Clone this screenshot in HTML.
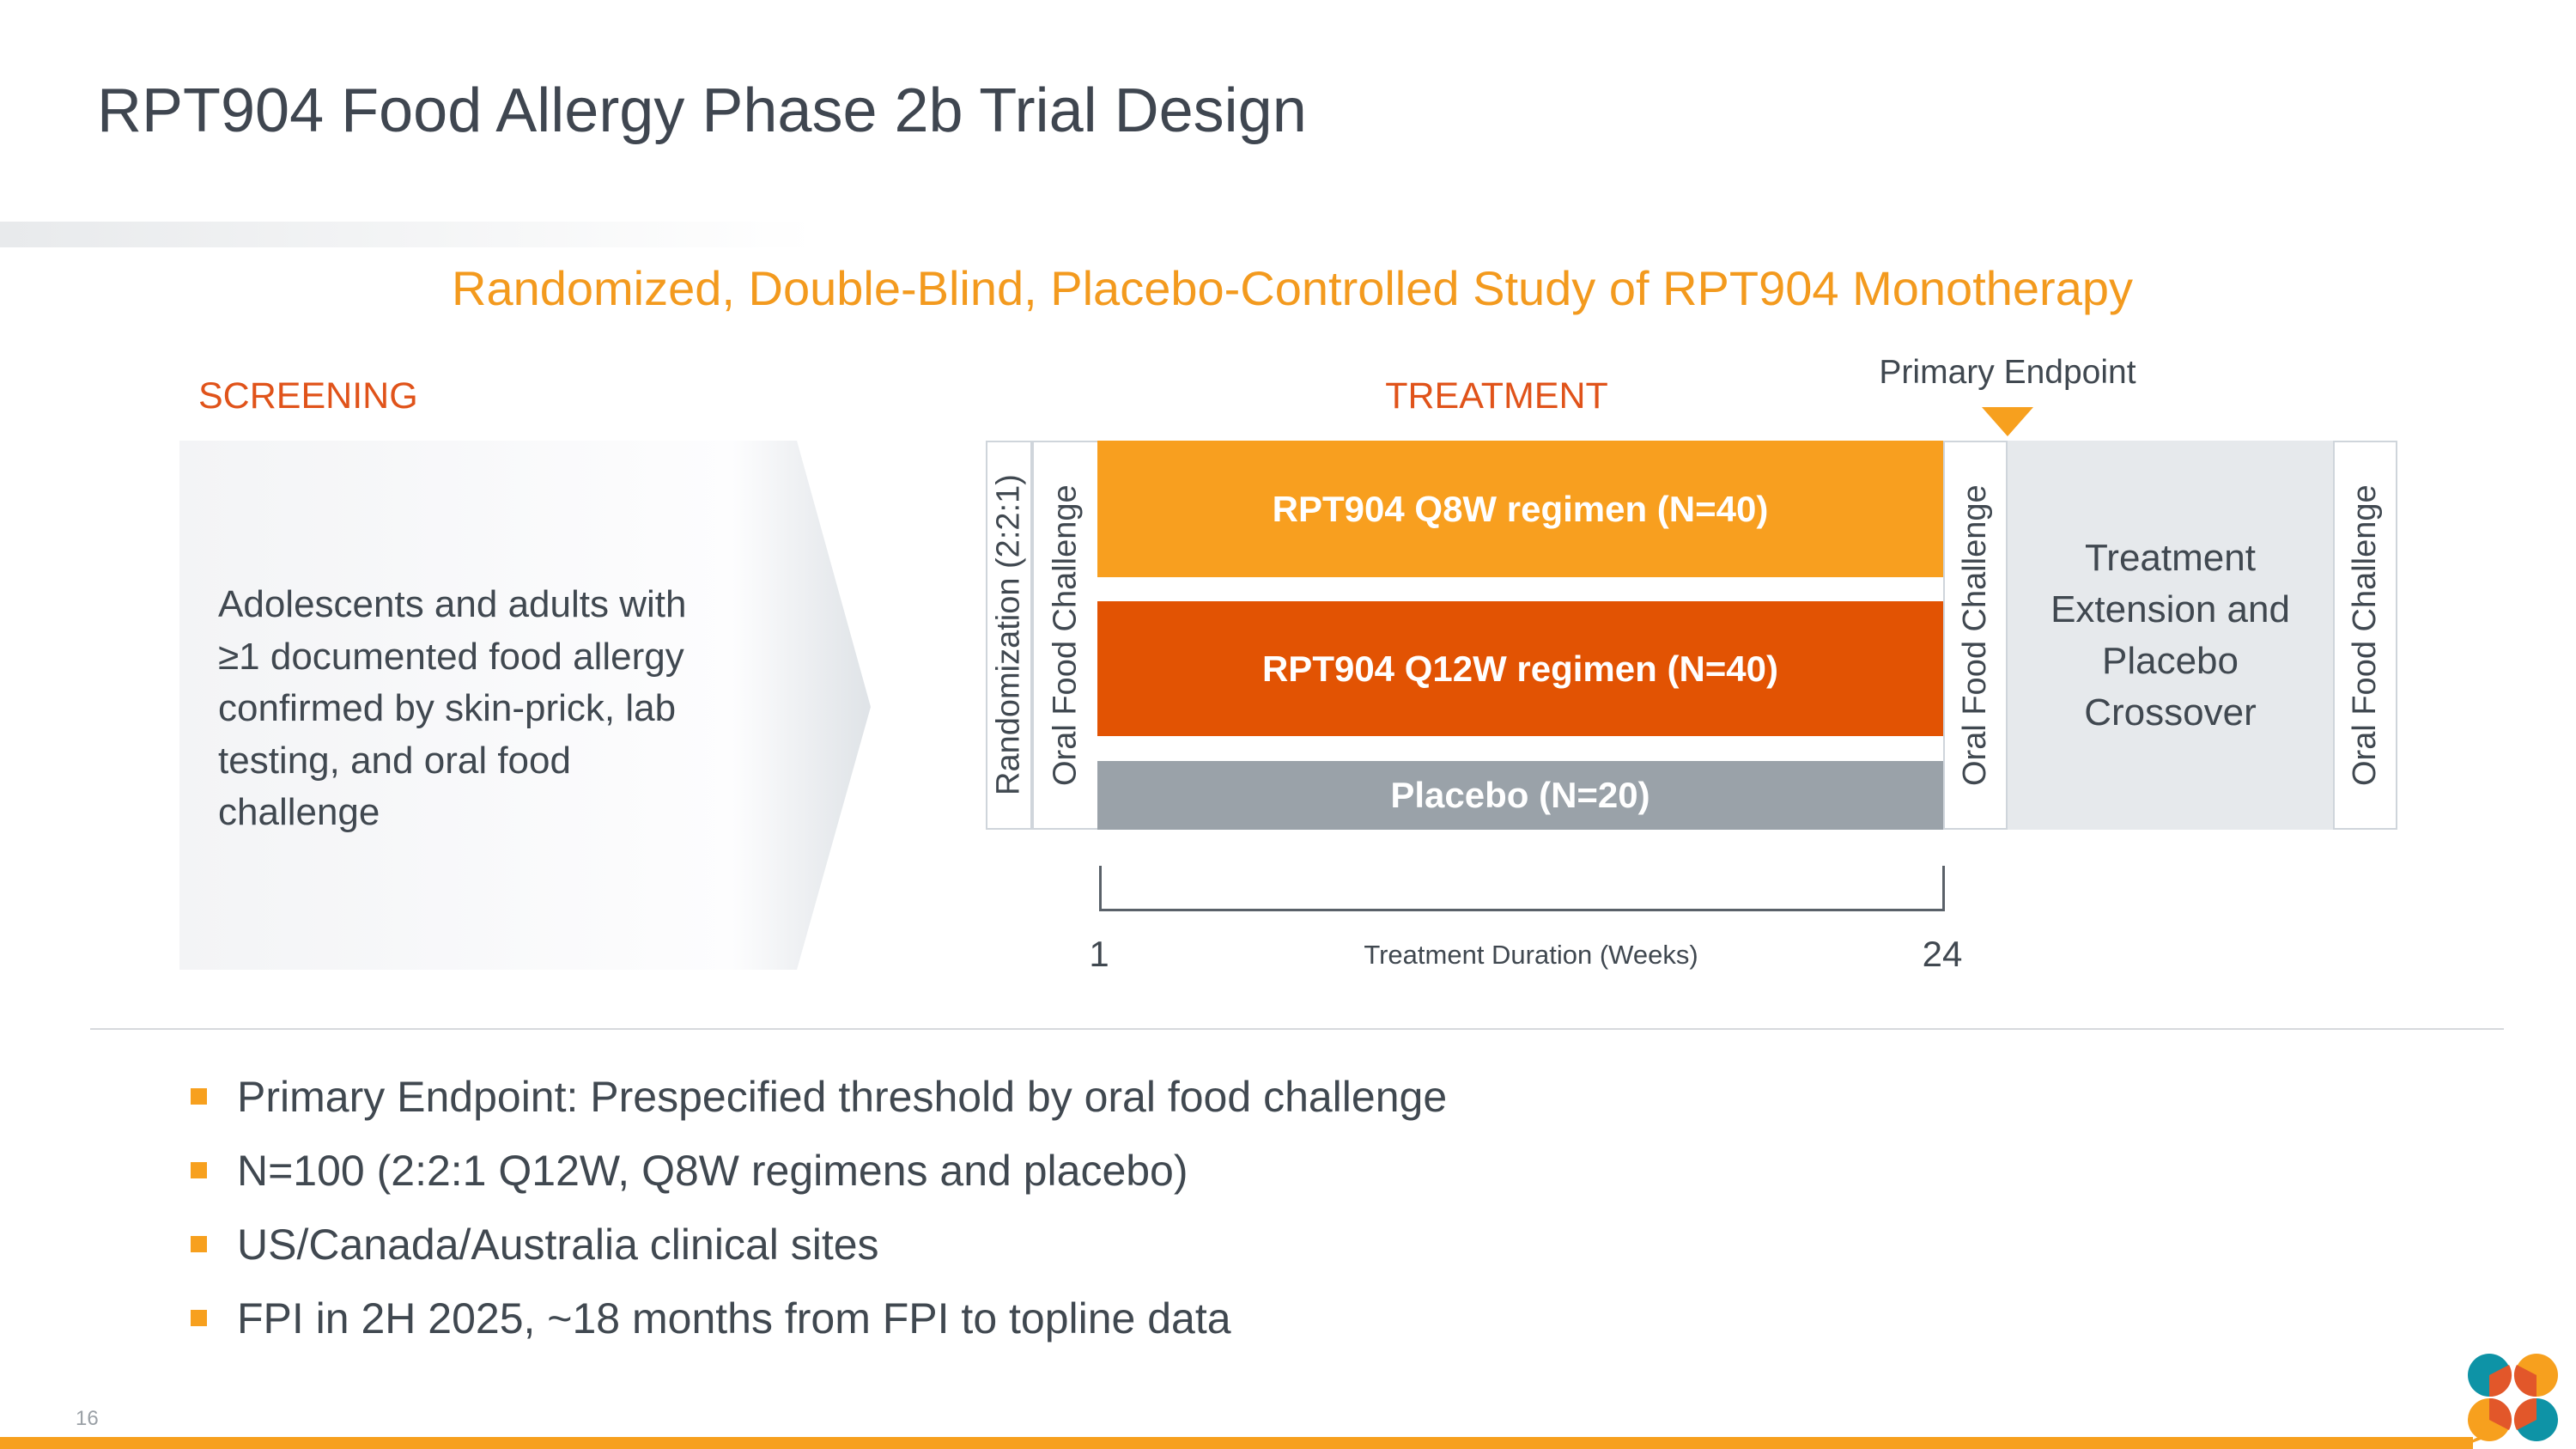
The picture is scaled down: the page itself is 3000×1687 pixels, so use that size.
<!DOCTYPE html>
<html><head><meta charset="utf-8"><style>
body{margin:0;width:3000px;height:1687px;position:relative;overflow:hidden;background:#fff;font-family:"Liberation Sans",sans-serif;color:#404850}
div{position:absolute;box-sizing:border-box}
.vt{writing-mode:vertical-rl;transform:rotate(180deg);display:flex;align-items:center;justify-content:center;font-size:38px;color:#404850;white-space:nowrap}
.bar{color:#fff;font-weight:bold;font-size:42px;display:flex;align-items:center;justify-content:center}
.bl{left:222px;width:19px;height:19px;background:#F7A01E}
.bt{left:276px;font-size:50px;color:#404850;white-space:nowrap}
</style></head><body>
<div style="left:113px;top:88px;font-size:72px;color:#3f4650">RPT904 Food Allergy Phase 2b Trial Design</div>
<div style="left:0;top:258px;width:950px;height:30px;background:linear-gradient(to right,#e8eaec,rgba(255,255,255,0))"></div>
<div style="left:0;width:3000px;top:303px;text-align:center;font-size:56px;color:#F39A1E;padding-left:10px">Randomized, Double-Blind, Placebo-Controlled Study of RPT904 Monotherapy</div>
<div style="left:231px;top:437px;font-size:43px;color:#E0531A">SCREENING</div>
<div style="left:1543px;width:400px;text-align:center;top:437px;font-size:43px;color:#E0531A">TREATMENT</div>
<div style="left:2138px;width:400px;text-align:center;top:412px;font-size:39px;color:#404850">Primary Endpoint</div>
<svg style="position:absolute;left:2308px;top:474px" width="60" height="34"><polygon points="0,0 60,0 30,34" fill="#F7A01E"/></svg>
<svg style="position:absolute;left:209px;top:513px" width="810" height="616"><defs><linearGradient id="g" x1="0" x2="1"><stop offset="0" stop-color="#f3f4f6"/><stop offset="0.8" stop-color="#fdfdfe"/><stop offset="1" stop-color="#dfe3e7"/></linearGradient></defs><polygon points="0,0 719,0 805,310 719,616 0,616" fill="url(#g)"/></svg>
<div style="left:254px;top:674px;font-size:44px;line-height:60.5px;color:#404850">Adolescents and adults with<br>≥1 documented food allergy<br>confirmed by skin-prick, lab<br>testing, and oral food<br>challenge</div>
<div class="vt" style="left:1148px;top:513px;width:54px;height:453px;border:2px solid #cfd5db">Randomization (2:2:1)</div>
<div class="vt" style="left:1202px;top:513px;width:76px;height:453px;border:2px solid #cfd5db;border-left:none">Oral Food Challenge</div>
<div class="bar" style="left:1278px;top:513px;width:985px;height:159px;background:#F89F1F">RPT904 Q8W regimen (N=40)</div>
<div class="bar" style="left:1278px;top:700px;width:985px;height:157px;background:#E25303">RPT904 Q12W regimen (N=40)</div>
<div class="bar" style="left:1278px;top:886px;width:985px;height:80px;background:#9AA2A9">Placebo (N=20)</div>
<div class="vt" style="left:2263px;top:513px;width:75px;height:453px;border:2px solid #cfd5db">Oral Food Challenge</div>
<div style="left:2338px;top:513px;width:379px;height:453px;background:#E6E9EC;display:flex;align-items:center;justify-content:center;text-align:center;font-size:44px;line-height:60px">Treatment<br>Extension and<br>Placebo<br>Crossover</div>
<div class="vt" style="left:2717px;top:513px;width:75px;height:453px;border:2px solid #cfd5db">Oral Food Challenge</div>
<div style="left:1280px;top:1008px;width:985px;height:53px;border:3px solid #5a6169;border-top:none"></div>
<div style="left:1260px;width:40px;text-align:center;top:1087px;font-size:42px">1</div>
<div style="left:2232px;width:60px;text-align:center;top:1087px;font-size:42px">24</div>
<div style="left:1483px;width:600px;text-align:center;top:1094px;font-size:31px">Treatment Duration (Weeks)</div>
<div style="left:105px;top:1197px;width:2811px;height:2px;background:#d6d9dc"></div>
<div class="bl" style="top:1267px"></div>
<div class="bt" style="top:1248px">Primary Endpoint: Prespecified threshold by oral food challenge</div>
<div class="bl" style="top:1353px"></div>
<div class="bt" style="top:1334px">N=100 (2:2:1 Q12W, Q8W regimens and placebo)</div>
<div class="bl" style="top:1439px"></div>
<div class="bt" style="top:1420px">US/Canada/Australia clinical sites</div>
<div class="bl" style="top:1525px"></div>
<div class="bt" style="top:1506px">FPI in 2H 2025, ~18 months from FPI to topline data</div>
<div style="left:88px;top:1638px;font-size:24px;color:#9aa0a6">16</div>
<div style="left:0;top:1673px;width:2880px;height:14px;background:#F7A01E"></div>
<svg style="position:absolute;left:2850px;top:1560px" width="150" height="127">
<path d="M2870,1687 Q2880,1670 2900,1672 L2860,1687Z" fill="#F7A01E" transform="translate(-2850,-1560)"/>
<g transform="translate(-2850,-1560)">
<circle cx="2899" cy="1601" r="25" fill="#0E93A6"/><path d="M2899,1601 L2922,1589 A25,25 0 0 1 2899,1626 Z" fill="#E2572A"/>
<circle cx="2954" cy="1601" r="25" fill="#F7A01E"/><path d="M2954,1601 L2931,1589 A25,25 0 0 0 2954,1626 Z" fill="#E2572A"/>
<circle cx="2899" cy="1653" r="25" fill="#F7A01E"/><path d="M2899,1653 L2922,1665 A25,25 0 0 0 2899,1628 Z" fill="#E2572A"/>
<circle cx="2954" cy="1653" r="25" fill="#0E93A6"/><path d="M2954,1653 L2931,1665 A25,25 0 0 1 2954,1628 Z" fill="#E2572A"/>
</g></svg>
</body></html>
